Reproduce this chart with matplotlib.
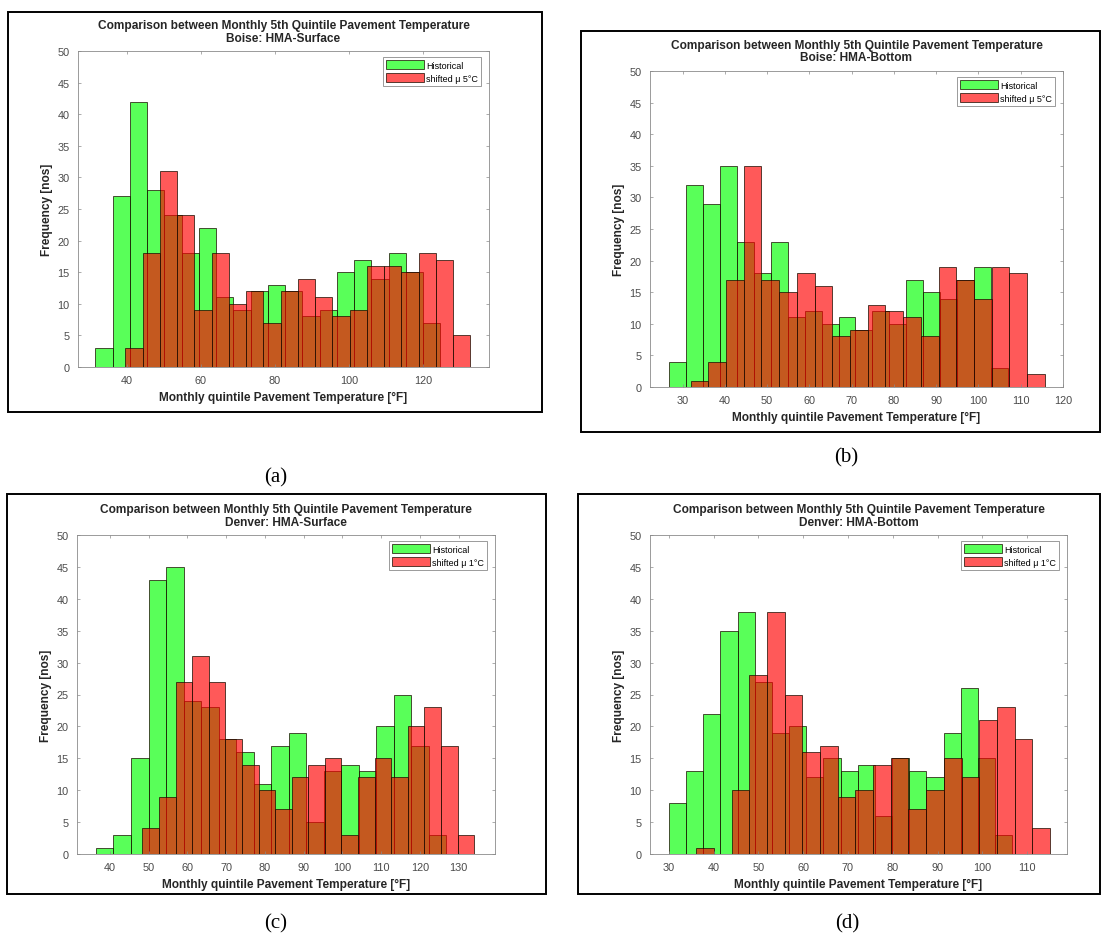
import numpy as np
import matplotlib.pyplot as plt
from matplotlib.patches import Rectangle

plt.rcParams['font.family'] = ['Liberation Sans', 'DejaVu Sans']

W, H = 1104, 937

# counts per bin
# (a) Boise: HMA-Surface
a_hist = [3, 27, 42, 28, 24, 18, 22, 11, 9, 12, 13, 12, 8, 9, 15, 17, 14, 18, 15, 7]
a_shift = [3, 18, 31, 24, 9, 18, 10, 12, 7, 12, 14, 11, 8, 9, 16, 16, 15, 18, 17, 5]
a_hist_bins = (31.6, 4.65)     # first edge [F], bin width [F]
a_shift_bins = (39.7, 4.65)

# (b) Boise: HMA-Bottom
b_hist = [4, 32, 29, 35, 23, 18, 23, 11, 12, 10, 11, 9, 12, 10, 17, 15, 14, 17, 19, 3]
b_shift = [1, 4, 17, 35, 17, 15, 18, 16, 8, 9, 13, 12, 11, 8, 19, 17, 14, 19, 18, 2]
b_hist_bins = (26.8, 4.01)
b_shift_bins = (31.9, 4.19)

# (c) Denver: HMA-Surface
c_hist = [1, 3, 15, 43, 45, 24, 23, 18, 16, 11, 17, 19, 5, 13, 14, 13, 20, 25, 17, 3]
c_shift = [4, 9, 27, 31, 27, 18, 14, 10, 7, 12, 14, 15, 3, 12, 15, 12, 20, 23, 17, 3]
c_hist_bins = (36.4, 4.52)
c_shift_bins = (48.4, 4.28)

# (d) Denver: HMA-Bottom
d_hist = [8, 13, 22, 35, 38, 27, 19, 20, 12, 15, 13, 14, 6, 15, 13, 12, 19, 26, 15, 3]
d_shift = [1, 0, 10, 28, 38, 25, 16, 17, 9, 10, 14, 15, 7, 10, 15, 12, 21, 23, 18, 4]
d_hist_bins = (30.0, 3.835)
d_shift_bins = (36.1, 3.95)

title1 = 'Comparison between Monthly 5th Quintile Pavement Temperature'
xlab = 'Monthly quintile Pavement Temperature [\u00b0F]'
ylab = 'Frequency [nos]'


def fig_box(l, t, r, b):
    # pixel box -> figure fraction [left, bottom, width, height]
    return [l / W, 1 - b / H, (r - l) / W, (b - t) / H]


panels = [
    dict(hist=a_hist, shift=a_shift, hb=a_hist_bins, sb=a_shift_bins,
         sub='Boise: HMA-Surface', shift_lab='shifted \u03bc 5\u00b0C',
         axes=(78, 52, 489, 368), xlim=(26.9, 137.7), xticks=np.arange(40, 121, 20),
         frame=(8, 13, 542, 413), title_y=(26, 39), tag='(a)', tag_xy=(276, 478)),
    dict(hist=b_hist, shift=b_shift, hb=b_hist_bins, sb=b_shift_bins,
         sub='Boise: HMA-Bottom', shift_lab='shifted \u03bc 5\u00b0C',
         axes=(650, 72, 1063, 388), xlim=(22.3, 120), xticks=np.arange(30, 121, 10),
         frame=(581, 32, 1100, 433), title_y=(46, 58), tag='(b)', tag_xy=(846, 458)),
    dict(hist=c_hist, shift=c_shift, hb=c_hist_bins, sb=c_shift_bins,
         sub='Denver: HMA-Surface', shift_lab='shifted \u03bc 1\u00b0C',
         axes=(77, 536, 495, 855), xlim=(31.5, 139.4), xticks=np.arange(40, 131, 10),
         frame=(7, 495, 546, 895), title_y=(510, 523), tag='(c)', tag_xy=(276, 924)),
    dict(hist=d_hist, shift=d_shift, hb=d_hist_bins, sb=d_shift_bins,
         sub='Denver: HMA-Bottom', shift_lab='shifted \u03bc 1\u00b0C',
         axes=(650, 536, 1067, 855), xlim=(25.8, 118.9), xticks=np.arange(30, 111, 10),
         frame=(578, 495, 1100, 895), title_y=(510, 523), tag='(d)', tag_xy=(847, 924)),
]

fig = plt.figure(figsize=(W / 100, H / 100), dpi=100)

green = (0.0, 1.0, 0.0, 0.65)
red = (1.0, 0.0, 0.0, 0.65)
edge = (0.1, 0.05, 0.0, 0.85)
grey = '#8a8a8a'

for p in panels:
    l, t, r, b = p['axes']
    ax = fig.add_axes(fig_box(l, t, r, b))

    n = len(p['hist'])
    left_h = p['hb'][0] + p['hb'][1] * np.arange(n)
    left_s = p['sb'][0] + p['sb'][1] * np.arange(n)
    ax.bar(left_h, p['hist'], width=p['hb'][1], align='edge', color=green,
           edgecolor=edge, linewidth=0.6, label='Historical')
    ax.bar(left_s, p['shift'], width=p['sb'][1], align='edge', color=red,
           edgecolor=edge, linewidth=0.6, label=p['shift_lab'])

    ax.set_xlim(*p['xlim'])
    ax.set_ylim(0, 50)
    ax.set_xticks(p['xticks'])
    ax.set_yticks(np.arange(0, 51, 5))
    ax.tick_params(direction='in', length=2.5, width=0.5, colors=grey,
                   labelcolor='#4a4a4a', labelsize=7.8, top=True, right=True, pad=6)
    for s in ax.spines.values():
        s.set_color(grey)
        s.set_linewidth(0.6)

    ax.set_xlabel(xlab, fontsize=8.6, fontweight='bold', color='#262626', labelpad=4)
    ax.set_ylabel(ylab, fontsize=8.6, fontweight='bold', color='#262626', labelpad=3)

    ax.legend(loc='upper right', bbox_to_anchor=((r - 8) / W, 1 - (t + 6) / H),
              bbox_transform=fig.transFigure, borderaxespad=0, fontsize=6.5,
              fancybox=False, edgecolor=grey, framealpha=1, handlelength=4.2,
              handleheight=1.1, handletextpad=0.25, labelspacing=0.4, borderpad=0.35)
    ax.get_legend().get_frame().set_linewidth(0.6)

    cx = (l + r) / 2
    fig.text(cx / W, 1 - p['title_y'][0] / H, title1, ha='center', va='center',
             fontsize=8.6, fontweight='bold', color='#262626')
    fig.text(cx / W, 1 - p['title_y'][1] / H, p['sub'], ha='center', va='center',
             fontsize=8.6, fontweight='bold', color='#262626')

    fl, ft, fr, fb = p['frame']
    fig.add_artist(Rectangle((fl / W, 1 - fb / H), (fr - fl) / W, (fb - ft) / H,
                             transform=fig.transFigure, fill=False,
                             edgecolor='black', linewidth=1.4))

    fig.text(p['tag_xy'][0] / W, 1 - p['tag_xy'][1] / H, p['tag'], ha='center',
             va='center', fontsize=15, family='Liberation Serif')

fig.savefig('out.png', dpi=100)
